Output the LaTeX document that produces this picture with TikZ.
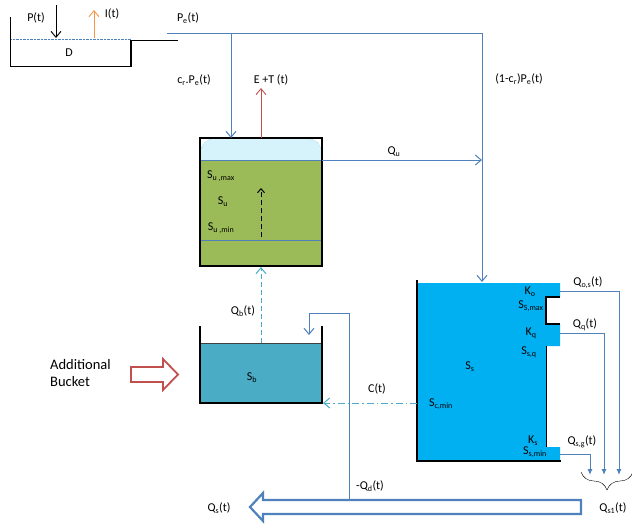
\documentclass[tikz,border=0pt]{standalone}
\usepackage{fontspec}
\setmainfont{Carlito}
\usetikzlibrary{arrows.meta,decorations.pathreplacing}
\definecolor{flowblue}{RGB}{79,129,189}
\definecolor{baseteal}{RGB}{75,172,198}
\definecolor{soilgreen}{RGB}{155,187,89}
\definecolor{capblue}{RGB}{214,243,252}
\definecolor{storeblue}{RGB}{0,176,240}
\definecolor{evapred}{RGB}{192,80,77}
\definecolor{infilorange}{RGB}{247,150,70}
\newcommand{\lo}[1]{\textsubscript{#1}}

\begin{document}
\begin{tikzpicture}[x=1pt, y=-1pt, every node/.style={font=\fontsize{12}{14}\selectfont, inner sep=0pt},
	flow/.style={draw=flowblue, line width=1pt},
	barb/.style={-{Straight Barb[length=6pt,width=10pt]}},
	drop/.style={-{Latex[length=6pt,width=5pt]}},
	longdash/.style={dash pattern=on 5pt off 3pt}]
	\useasboundingbox (0,0) rectangle (632,523);
	% surface store
	\draw[flowblue, densely dotted] (10,39) -- (131,39);
	\draw[line width=1pt] (10,17) -- (10,66) -- (131,66) -- (131,40) -- (178,40);
	\draw[line width=2pt] (131,40) -- (131,66);
	\node (D) at (69,53) {D};
	\coordinate (Pin) at (56,5); \coordinate (Pout) at (56,38);
	\coordinate (Iin) at (94,38); \coordinate (Iout) at (94,10);
	\draw[barb, line width=0.9pt] (Pin) -- (Pout);
	\draw[barb, infilorange, line width=0.9pt] (Iin) -- (Iout);
	\node (P) at (36,18) {P(t)};
	\node (I) at (112,14) {I(t)};
	\node (Pe) at (188,18) {P\lo{e}(t)};
	% upper store
	\fill[soilgreen] (200,160) rectangle (322,266);
	\draw[densely dotted, baseteal, fill=capblue, rounded corners=14pt] (200.5,160) -- (200.5,138.5) -- (321.5,138.5) -- (321.5,160);
	\draw[flowblue] (200,160) -- (322,160);
	\draw[flowblue] (200,240) -- (322,240);
	\draw[line width=1.2pt] (200,138) rectangle (322,266);
	\node (Sumax) at (221,176) {S\lo{u ,max}};
	\node (Su) at (223,202) {S\lo{u}};
	\node (Sumin) at (221,228) {S\lo{u ,min}};
	\coordinate (Sulow) at (261,237); \coordinate (Suhigh) at (261,188);
	\draw[-{Straight Barb[length=4pt,width=7pt]}, longdash, line width=1pt] (Sulow) -- (Suhigh);
	% routing of effective rain
	\coordinate (Pestart) at (167,33); \coordinate (Pesplit) at (231,33); \coordinate (Pecorner) at (482,33);
	\coordinate (Sutop) at (231,138); \coordinate (Ssin) at (482,282);
	\draw[flow] (Pestart) -- (Pecorner);
	\draw[flow, barb] (Pesplit) -- (Sutop);
	\draw[flow, barb] (Pecorner) -- (Ssin);
	\node (crPe) at (194,80) {c\lo{r}.P\lo{e}(t)};
	\node (rest) at (519,79) {(1-c\lo{r})P\lo{e}(t)};
	\coordinate (ETin) at (261,138); \coordinate (ETout) at (261,88);
	\draw[barb, evapred, line width=0.9pt] (ETin) -- (ETout);
	\node (ET) at (271,80) {E +T (t)};
	\coordinate (Quout) at (322,160); \coordinate (Quin) at (482,160);
	\draw[flow, barb] (Quout) -- (Quin);
	\node (Qu) at (394,152) {Q\lo{u}};
	% base store
	\fill[baseteal] (200,343) rectangle (322,403);
	\draw[darkgray, line width=1pt] (200,343) -- (322,343);
	\draw[line width=1.5pt] (200,326) -- (200,403) -- (322,403) -- (322,326);
	\node (Sb) at (252,378) {S\lo{b}};
	\coordinate (Sbtop) at (261,343); \coordinate (Subot) at (261,267);
	\draw[barb, longdash, baseteal, line width=1pt] (Sbtop) -- (Subot);
	\node (Qb) at (243,311) {Q\lo{b}(t)};
	\node[font=\fontsize{14.5}{17}\selectfont, align=left, anchor=west] (extra) at (50,373) {Additional\\Bucket};
	\draw[evapred, line width=1.8pt, fill=white] (131,367) -- (163,367) -- (163,359) -- (178,374.5) -- (163,390) -- (163,382) -- (131,382) -- cycle;
	% slow store
	\fill[storeblue] (417,283) -- (560,283) -- (560,297) -- (546,297) -- (546,324) -- (560,324) -- (560,346) -- (546,346)
		-- (546,447) -- (560,447) -- (560,461) -- (417,461) -- cycle;
	\draw[line width=1.2pt] (417,280) -- (417,461) -- (561,461);
	\draw[line width=2pt] (560,297) -- (546,297) -- (546,324) -- (560,324);
	\draw[line width=1pt] (546,346) -- (546,447);
	\node (Ss) at (470,367) {S\lo{s}};
	\node (Scmin) at (441,404) {S\lo{c,min}};
	\node (Ko) at (530,292) {K\lo{o}};
	\node (Ssmax) at (531,306) {S\lo{S,max}};
	\node (Kq) at (531,333) {K\lo{q}};
	\node (Ssq) at (529,352) {S\lo{s,q}};
	\node (Ks) at (533,441) {K\lo{s}};
	\node (Ssmin) at (535,452) {S\lo{s,min}};
	\coordinate (Ssleft) at (417,403); \coordinate (Sbright) at (323,403);
	\draw[barb, dash pattern=on 7pt off 3pt on 1.5pt off 3pt, baseteal, line width=1pt] (Ssleft) -- (Sbright);
	\node (C) at (377,389) {C(t)};
	% outflows
	\draw[flow, drop] (560,291) -- (619,291) -- (619,475);
	\draw[flow, drop] (560,333) -- (604,333) -- (604,475);
	\draw[flow, drop] (560,454) -- (590,454) -- (590,475);
	\node (Qos) at (588,283) {Q\lo{o,s}(t)};
	\node (Qq) at (585,325) {Q\lo{q}(t)};
	\node (Qsg) at (582,442) {Q\lo{s,g}(t)};
	\draw[decorate, decoration={brace, mirror, amplitude=18pt}] (581,472) -- (633,472);
	\node (Qs1) at (613,508) {Q\lo{s1}(t)};
	% total flow and loss
	\draw[flowblue, line width=2.2pt, fill=white] (581,500) -- (263,500) -- (263,493) -- (250,507) -- (263,521) -- (263,514) -- (581,514) -- cycle;
	\node (Qs) at (219,508) {Q\lo{s}(t)};
	\coordinate (Qdstart) at (349,500); \coordinate (Qdup) at (349,313); \coordinate (Qdleft) at (309,313); \coordinate (Qdend) at (309,335);
	\draw[flow, barb] (Qdstart) -- (Qdup) -- (Qdleft) -- (Qdend);
	\node (Qd) at (370,486) {-Q\lo{d}(t)};
\end{tikzpicture}
\end{document}
